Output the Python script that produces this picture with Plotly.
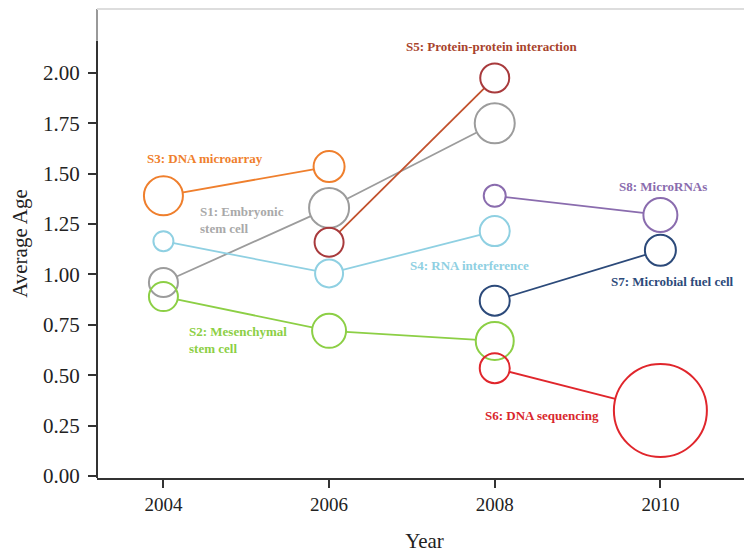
import plotly.graph_objects as go

# ---- data ----
series_names = ["S1: Embryonic<br>stem cell", "S2: Mesenchymal<br>stem cell", "S3: DNA microarray",
                "S4: RNA interference", "S5: Protein-protein interaction", "S6: DNA sequencing",
                "S7: Microbial fuel cell", "S8: MicroRNAs"]
s1_years = [2004, 2006, 2008]
s1_age = [0.96, 1.33, 1.75]
s1_bubble = [29, 40, 40]
s2_years = [2004, 2006, 2008]
s2_age = [0.89, 0.72, 0.67]
s2_bubble = [29, 34, 38]
s3_years = [2004, 2006]
s3_age = [1.39, 1.535]
s3_bubble = [39, 31]
s4_years = [2004, 2006, 2008]
s4_age = [1.165, 1.005, 1.215]
s4_bubble = [20, 28, 30]
s5_years = [2006, 2008]
s5_age = [1.16, 1.975]
s5_bubble = [29, 29]
s6_years = [2008, 2010]
s6_age = [0.535, 0.325]
s6_bubble = [30, 93]
s7_years = [2008, 2010]
s7_age = [0.87, 1.12]
s7_bubble = [30, 31]
s8_years = [2008, 2010]
s8_age = [1.39, 1.295]
s8_bubble = [22, 34]

y_ticks = [0, 0.25, 0.5, 0.75, 1.0, 1.25, 1.5, 1.75, 2.0]
y_tick_labels = ["0.00", "0.25", "0.50", "0.75", "1.00", "1.25", "1.50", "1.75", "2.00"]
x_ticks = [2004, 2006, 2008, 2010]
x_tick_labels = ["2004", "2006", "2008", "2010"]

# label anchor positions (data coords)
label_pos = [(2004.42, 1.272), (2004.29, 0.676), (2003.78, 1.574), (2006.95, 1.045),
             (2006.90, 2.130), (2007.86, 0.299), (2009.38, 0.967), (2009.48, 1.437)]

# ---- styles ----
line_colors = ["#9c9c9c", "#8ccf45", "#ef7f2d", "#8fd0e2", "#c2512c", "#e0262c", "#2c4a7a", "#8a6cae"]
marker_colors = ["#9c9c9c", "#8ccf45", "#ef7f2d", "#8fd0e2", "#a83a3c", "#e0262c", "#2c4a7a", "#8a6cae"]
text_colors = ["#a9a9a9", "#8ccf45", "#ef7f2d", "#8fd0e2", "#a8432c", "#d9262c", "#2c4a7a", "#8a6cae"]

data = [(s1_years, s1_age, s1_bubble), (s2_years, s2_age, s2_bubble), (s3_years, s3_age, s3_bubble),
        (s4_years, s4_age, s4_bubble), (s5_years, s5_age, s5_bubble), (s6_years, s6_age, s6_bubble),
        (s7_years, s7_age, s7_bubble), (s8_years, s8_age, s8_bubble)]

fig = go.Figure()
# connecting lines
for (xs, ys, ss), c in zip(data, line_colors):
    fig.add_trace(go.Scatter(x=xs, y=ys, mode="lines", line=dict(color=c, width=1.8),
                             hoverinfo="skip", showlegend=False))
# white discs to hide lines inside circles
for (xs, ys, ss) in data:
    fig.add_trace(go.Scatter(x=xs, y=ys, mode="markers",
                             marker=dict(size=ss, color="white", opacity=1, line=dict(width=0)),
                             hoverinfo="skip", showlegend=False))
# circle outlines
for (xs, ys, ss), c, n in zip(data, marker_colors, series_names):
    fig.add_trace(go.Scatter(x=xs, y=ys, mode="markers", name=n.replace("<br>", " "),
                             marker=dict(size=ss, color="rgba(0,0,0,0)", opacity=1,
                                         line=dict(width=2, color=c)),
                             showlegend=False))

for n, (lx, ly), c in zip(series_names, label_pos, text_colors):
    fig.add_annotation(x=lx, y=ly, xref="x", yref="y", text="<b>" + n + "</b>", showarrow=False,
                       xanchor="left", yanchor="middle", align="left",
                       font=dict(family="Liberation Serif", size=13, color=c))

# left spine and top frame
fig.add_shape(type="line", xref="paper", yref="y", x0=0, x1=0, y0=-0.01, y1=2.16,
              line=dict(color="#333333", width=2))
fig.add_shape(type="line", xref="paper", yref="y", x0=0, x1=0, y0=2.16, y1=2.317,
              line=dict(color="#999999", width=2))
fig.add_shape(type="line", xref="paper", yref="paper", x0=0, x1=1, y0=1, y1=1,
              line=dict(color="#dddddd", width=2))

fig.update_layout(
    width=752, height=554,
    margin=dict(l=89, r=8, t=1, b=84, autoexpand=False),
    paper_bgcolor="white", plot_bgcolor="white",
    font=dict(family="Liberation Serif", color="#222222"),
    xaxis=dict(range=[2003.198, 2011.106], tickvals=x_ticks, ticktext=x_tick_labels,
               automargin=False,
               showgrid=False, zeroline=False, showline=True, linecolor="#333333", linewidth=2,
               ticks="outside", ticklen=8, tickwidth=2, tickcolor="#333333",
               tickfont=dict(family="Liberation Serif", size=19, color="#222222"),
               title=dict(text="Year", font=dict(family="Liberation Serif", size=21, color="#222222"),
                          standoff=20)),
    yaxis=dict(range=[-0.01, 2.317], tickvals=y_ticks, ticktext=y_tick_labels,
               automargin=False,
               showgrid=False, zeroline=False, showline=False,
               ticks="outside", ticklen=8, tickwidth=2, tickcolor="#333333",
               ticklabelstandoff=4,
               tickfont=dict(family="Liberation Serif", size=21, color="#222222"),
               title=dict(text="Average Age", font=dict(family="Liberation Serif", size=21, color="#222222"),
                          standoff=17)),
)

fig.write_html("out.html")
